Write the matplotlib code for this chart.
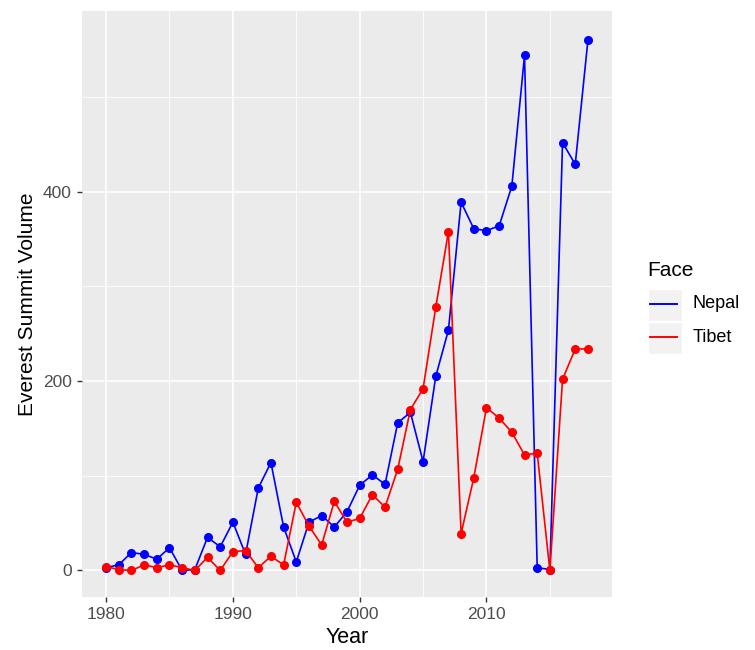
import matplotlib.pyplot as plt
from matplotlib.lines import Line2D
from matplotlib.patches import Rectangle

plt.rcParams['font.family'] = ['Liberation Sans', 'DejaVu Sans']

# Everest summits per year by face
years = list(range(1980, 2019))
nepal = [3, 6, 19, 17, 12, 24, 0, 1, 35, 25, 51, 17, 87, 114, 46, 9, 51, 58, 46, 62,
         90, 101, 91, 156, 167, 115, 205, 254, 389, 361, 359, 364, 406, 544, 3, 1,
         452, 429, 560]
tibet = [4, 1, 0, 6, 3, 6, 3, 0, 14, 0, 20, 21, 3, 15, 6, 72, 47, 27, 73, 51,
         55, 80, 67, 107, 170, 192, 278, 358, 39, 98, 172, 161, 146, 122, 124, 0,
         202, 234, 234]
faces = ['Nepal', 'Tibet']
colors = ['blue', 'red']

W, H = 755, 650


def px(x, y):
    return x / W, 1 - y / H


fig = plt.figure(figsize=(W / 100, H / 100), dpi=100)
ax = fig.add_axes([82 / W, 1 - 597 / H, 530 / W, 586 / H])
ax.set_facecolor('#EBEBEB')
for s in ax.spines.values():
    s.set_visible(False)

ax.plot(years, nepal, color=colors[0], lw=1.2, marker='o', ms=5.5, zorder=3)
ax.plot(years, tibet, color=colors[1], lw=1.2, marker='o', ms=5.5, zorder=3)

ax.set_xlim(1978.1, 2019.9)
ax.set_ylim(-28, 591)
ax.set_xticks([1980, 1990, 2000, 2010])
ax.set_yticks([0, 200, 400])
ax.set_xticks([1985, 1995, 2005, 2015], minor=True)
ax.set_yticks([100, 300, 500], minor=True)
ax.grid(which='major', color='white', lw=1.2)
ax.grid(which='minor', color='white', lw=0.6)
ax.set_axisbelow(True)
ax.tick_params(which='major', length=3.5, color='#333333', labelcolor='#4D4D4D',
               labelsize=12.5, width=1, pad=4)
ax.tick_params(which='minor', length=0)

ax.set_xlabel('Year', fontsize=15.5, labelpad=3)
ax.set_ylabel('Everest Summit Volume', fontsize=15, labelpad=4)

# legend drawn ggplot-style
fig.text(*px(647, 276), 'Face', fontsize=15, ha='left', va='baseline')
for i, (name, c) in enumerate(zip(faces, colors)):
    top = 289 + i * 33
    x0, y0 = px(648, top + 32)
    fig.patches.append(Rectangle((x0, y0), 34 / W, 32 / H, transform=fig.transFigure,
                                 facecolor='#F2F2F2', edgecolor='white', lw=1))
    yc = top + 15
    fig.lines.append(Line2D([650 / W, 677 / W], [1 - yc / H] * 2,
                            transform=fig.transFigure, color=c, lw=1.4))
    fig.text(*px(693, yc), name, fontsize=13, ha='left', va='center')

fig.savefig('out.png', dpi=100)
